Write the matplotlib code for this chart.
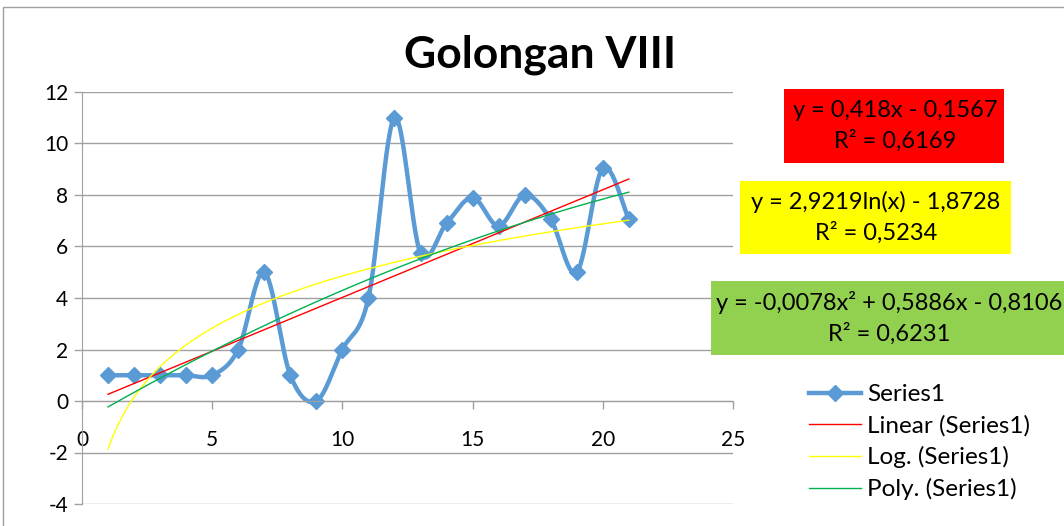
import numpy as np
import matplotlib
matplotlib.use('Agg')
import matplotlib.pyplot as plt
from matplotlib.lines import Line2D
from matplotlib.patches import Rectangle

plt.rcParams['font.family'] = ['Lato', 'DejaVu Sans']
plt.rcParams['font.size'] = 15
plt.rcParams['axes.unicode_minus'] = False

# data
x = np.arange(1, 22)
y = np.array([1, 1, 1, 1, 1, 2, 5, 1, 0, 2, 4, 11,
              5.75, 6.9, 7.9, 6.8, 8.0, 7.05, 5.0, 9.05, 7.05])

lin_coef = [0.418, -0.1567]
log_coef = [2.9219, -1.8728]
poly_coef = [-0.0078, 0.5886, -0.8106]

eq_lin = 'y = 0,418x - 0,1567\nR² = 0,6169'
eq_log = 'y = 2,9219ln(x) - 1,8728\nR² = 0,5234'
eq_poly = 'y = -0,0078x² + 0,5886x - 0,8106\nR² = 0,6231'

blue = '#5B9BD5'
grid_c = '#A0A0A0'


def smooth(px, py, n=30):
    # Catmull-Rom style smoothing like Excel's "smoothed line"
    pts = np.column_stack([px, py]).astype(float)
    out = []
    for i in range(len(pts) - 1):
        p0 = pts[max(i - 1, 0)]
        p1 = pts[i]
        p2 = pts[i + 1]
        p3 = pts[min(i + 2, len(pts) - 1)]
        c1 = p1 + (p2 - p0) / 6
        c2 = p2 - (p3 - p1) / 6
        t = np.linspace(0, 1, n)[:, None]
        seg = ((1 - t) ** 3) * p1 + 3 * ((1 - t) ** 2) * t * c1 + 3 * (1 - t) * t ** 2 * c2 + t ** 3 * p2
        out.append(seg)
    out = np.vstack(out)
    return out[:, 0], out[:, 1]


fig = plt.figure(figsize=(10.64, 5.26), dpi=100)
W, H = 1064, 526
ax = fig.add_axes([82 / W, 1 - 504 / H, 651 / W, 412 / H])

# trendlines
xt = np.linspace(1, 21, 200)
ax.plot(xt, np.polyval(lin_coef, xt), color='#FF0000', lw=1.0, zorder=3)
ax.plot(xt, log_coef[0] * np.log(xt) + log_coef[1], color='#FFFF00', lw=1.0, zorder=3)
ax.plot(xt, np.polyval(poly_coef, xt), color='#00B050', lw=1.0, zorder=3)

# smoothed series
sx, sy = smooth(x, y)
ax.plot(sx, sy, color=blue, lw=3.2, zorder=2, solid_capstyle='round')
ax.plot(x, y, ls='none', marker='D', ms=8.5, color=blue, zorder=2)

ax.set_xlim(0, 25)
ax.set_ylim(-4, 12)
ax.set_xticks(range(0, 26, 5))
ax.set_yticks(range(-4, 13, 2))
ax.yaxis.grid(True, color=grid_c, lw=1.0)
ax.set_axisbelow(True)
for s in ['top', 'right']:
    ax.spines[s].set_visible(False)
ax.spines['left'].set_color(grid_c)
ax.spines['bottom'].set_color(grid_c)
ax.spines['bottom'].set_position(('data', 0))
ax.tick_params(axis='both', colors=grid_c, labelcolor='black', length=6, width=1)
ax.tick_params(axis='x', pad=15)
ax.tick_params(axis='y', pad=4)

# title
fig.text(540 / W, 1 - 55 / H, 'Golongan VIII', ha='center', va='center',
         fontsize=32, fontweight='bold')

# overlay for equation boxes and chart border
ov = fig.add_axes([0, 0, 1, 1], zorder=5)
ov.set_xlim(0, W)
ov.set_ylim(H, 0)
ov.axis('off')
ov.patch.set_alpha(0)
ov.add_patch(Rectangle((3, 7), 1100, 600, fill=False, ec=grid_c, lw=1))

boxes = [
    (784, 89, 220, 74, '#FF0000', 895, eq_lin),
    (740, 181, 271, 73, '#FFFF00', 876, eq_log),
    (711, 281, 360, 74, '#92D050', 889, eq_poly),
]
for bx, by, bw, bh, bc, tx, txt in boxes:
    ov.add_patch(Rectangle((bx, by), bw, bh, color=bc, lw=0))
    ov.text(tx, by + bh / 2, txt, ha='center', va='center', fontsize=17,
            linespacing=1.45, clip_on=False)

# legend
handles = [
    Line2D([], [], color=blue, lw=3.2, marker='D', ms=8.5),
    Line2D([], [], color='#FF0000', lw=1.0),
    Line2D([], [], color='#FFFF00', lw=1.0),
    Line2D([], [], color='#00B050', lw=1.0),
]
labels = ['Series1', 'Linear (Series1)', 'Log. (Series1)', 'Poly. (Series1)']
fig.legend(handles, labels, loc='upper left', bbox_to_anchor=(797 / W, 1 - 372 / H),
           frameon=False, fontsize=17.5, handlelength=2.15, handletextpad=0.25,
           labelspacing=0.4, borderpad=0)

fig.savefig('out.png', dpi=100)
